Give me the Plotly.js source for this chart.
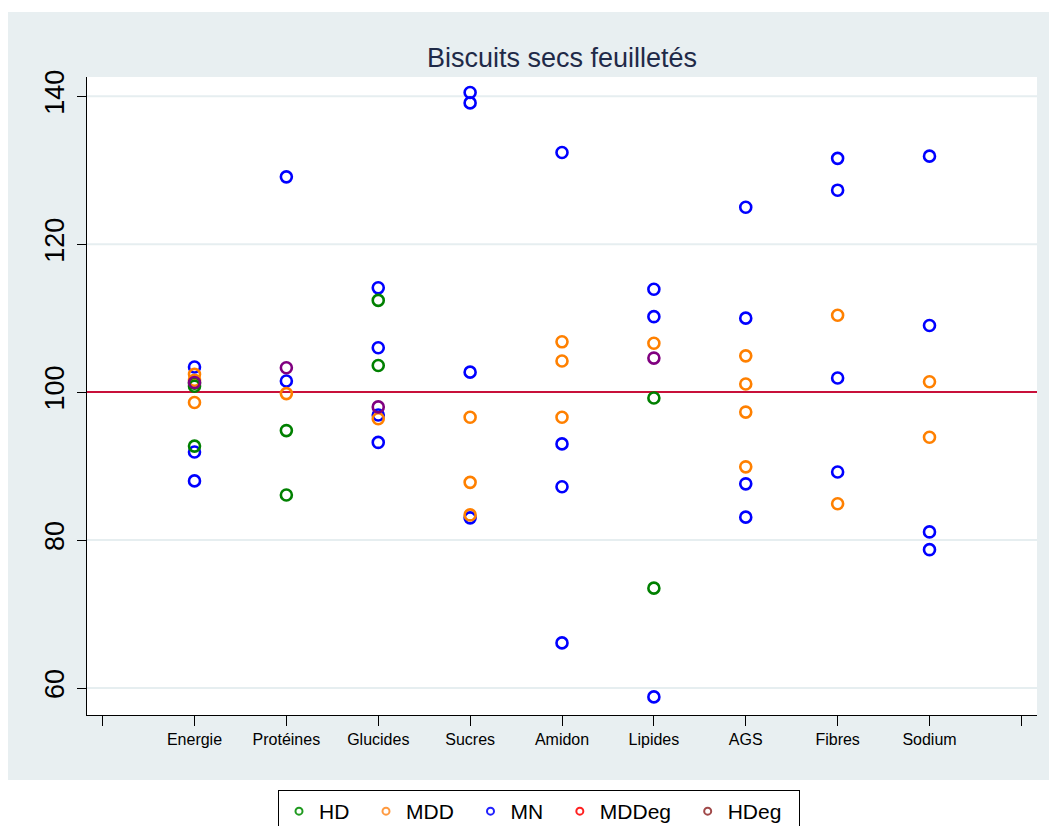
<!DOCTYPE html>
<html><head><meta charset="utf-8">
<script src="https://cdn.plot.ly/plotly-3.0.1.min.js"></script>
<style>
html,body{margin:0;padding:0;background:#fff;}
#wrap{position:relative;width:1049px;height:826px;}
#bg{position:absolute;left:8px;top:12px;width:1041px;height:768px;background:#e8eff1;}
#chart{position:absolute;left:0;top:0;width:1049px;height:826px;}
</style></head>
<body><div id="wrap"><div id="bg"></div><div id="chart"></div></div>
<script>
const categories = ['Energie','Protéines','Glucides','Sucres','Amidon','Lipides','AGS','Fibres','Sodium'];
const tickLabels = ['', ...categories, ''];

// values per series: category and value
const HD_cat   = ['Energie','Energie','Energie','Protéines','Protéines','Glucides','Glucides','Lipides','Lipides'];
const HD_val   = [100.8, 101.2, 92.7, 94.8, 86.1, 112.4, 103.6, 99.2, 73.5];

const MDD_cat  = ['Energie','Energie','Energie','Protéines','Glucides','Sucres','Sucres','Sucres','Amidon','Amidon','Amidon','Lipides','AGS','AGS','AGS','AGS','Fibres','Fibres','Sodium','Sodium'];
const MDD_val  = [102.4, 101.6, 98.6, 99.8, 96.4, 96.6, 87.8, 83.4, 106.8, 104.2, 96.6, 106.6, 104.9, 101.1, 97.3, 89.9, 110.4, 84.9, 101.4, 93.9];

const MN_cat   = ['Energie','Energie','Energie','Protéines','Protéines','Glucides','Glucides','Glucides','Glucides','Sucres','Sucres','Sucres','Sucres','Amidon','Amidon','Amidon','Amidon','Lipides','Lipides','Lipides','AGS','AGS','AGS','AGS','Fibres','Fibres','Fibres','Fibres','Sodium','Sodium','Sodium','Sodium'];
const MN_val   = [103.4, 91.9, 88.0, 129.1, 101.5, 114.1, 106.0, 96.9, 93.2, 140.5, 139.1, 102.7, 83.0, 132.4, 93.0, 87.2, 66.1, 113.9, 110.2, 58.8, 125.0, 110.0, 87.6, 83.1, 131.6, 127.3, 101.9, 89.2, 131.9, 109.0, 81.1, 78.7];

const MDDeg_cat = [];
const MDDeg_val = [];

const HDeg_cat = ['Energie','Protéines','Glucides','Lipides'];
const HDeg_val = [101.3, 103.3, 98.0, 104.6];

const refValue = 100;
const yTicks = [60, 80, 100, 120, 140];
const seriesNames = ['HD','MDD','MN','MDDeg','HDeg'];

const colors = {HD:'#008000', MDD:'#ff8000', MN:'#0000ff', MDDeg:'#ff0000', HDeg:'#800080'};
const legendColors = {HD:'#1f9a1f', MDD:'#ff9a40', MN:'#2020ff', MDDeg:'#ff2020', HDeg:'#a04848'};

const pos = c => categories.indexOf(c) + 1;
const PAD = '\u00a0\u00a0';

function dataTrace(name, cats, vals){
  return {type:'scatter', mode:'markers', name:name, showlegend:false, legendgroup:name,
    x: cats.map(pos), y: vals, hoverinfo:'skip',
    marker:{symbol:'circle-open', size:11, color:colors[name], line:{width:2.6, color:colors[name]}}};
}
function legendTrace(name){
  return {type:'scatter', mode:'markers', name:name + PAD, legendgroup:name, x:[null], y:[null],
    marker:{symbol:'circle-open', size:7, color:legendColors[name], line:{width:2, color:legendColors[name]}}};
}

const traces = [
  dataTrace('MN', MN_cat, MN_val),
  dataTrace('MDD', MDD_cat, MDD_val),
  dataTrace('HD', HD_cat, HD_val),
  dataTrace('MDDeg', MDDeg_cat, MDDeg_val),
  dataTrace('HDeg', HDeg_cat, HDeg_val),
  ...seriesNames.map(legendTrace)
];

const gridShapes = yTicks.map(v => ({type:'line', xref:'paper', x0:0, x1:1, yref:'y', y0:v, y1:v, layer:'below',
  line:{color:'#e6eef0', width:2}}));
const refShape = {type:'line', xref:'paper', x0:0, x1:1, yref:'y', y0:refValue, y1:refValue, layer:'below',
  line:{color:'#c8103a', width:2}};

const layout = {
  width:1049, height:826,
  paper_bgcolor:'rgba(0,0,0,0)', plot_bgcolor:'#ffffff',
  margin:{l:87, r:12, t:77, b:111},
  font:{family:'Liberation Sans, Arial, sans-serif', color:'#000'},
  title:{text:'Biscuits secs feuilletés', font:{size:27, color:'#1f2a48', family:'Liberation Sans, Arial'},
         x:0.5357, xanchor:'center', y:1-58/826, yanchor:'middle', yref:'container'},
  xaxis:{range:[-0.17, 10.17], tickmode:'array', tickvals:tickLabels.map((_,i)=>i), ticktext:tickLabels,
         showgrid:false, zeroline:false, showline:true, linecolor:'#000', linewidth:1,
         ticks:'outside', ticklen:10, tickcolor:'#000', tickwidth:1,
         tickfont:{size:16, family:'Liberation Sans, Arial'}},
  yaxis:{range:[56.35, 142.6], tickmode:'array', tickvals:yTicks, showgrid:false,
         zeroline:false, showline:true, linecolor:'#000', linewidth:1,
         ticks:'outside', ticklen:9, tickcolor:'#000', tickwidth:1, tickangle:-90,
         tickfont:{size:27, family:'Liberation Sans, Arial'}, ticklabelstandoff:2},
  shapes:[...gridShapes, refShape],
  legend:{orientation:'h', xref:'container', yref:'container', x:278/1049, xanchor:'left', y:1-790/826, yanchor:'top',
          bgcolor:'#ffffff', bordercolor:'#000', borderwidth:1, font:{size:21, family:'Liberation Sans, Arial'},
          itemwidth:30, traceorder:'normal'},
  showlegend:true
};

Plotly.newPlot('chart', traces, layout, {displayModeBar:false, staticPlot:true});
</script></body></html>
